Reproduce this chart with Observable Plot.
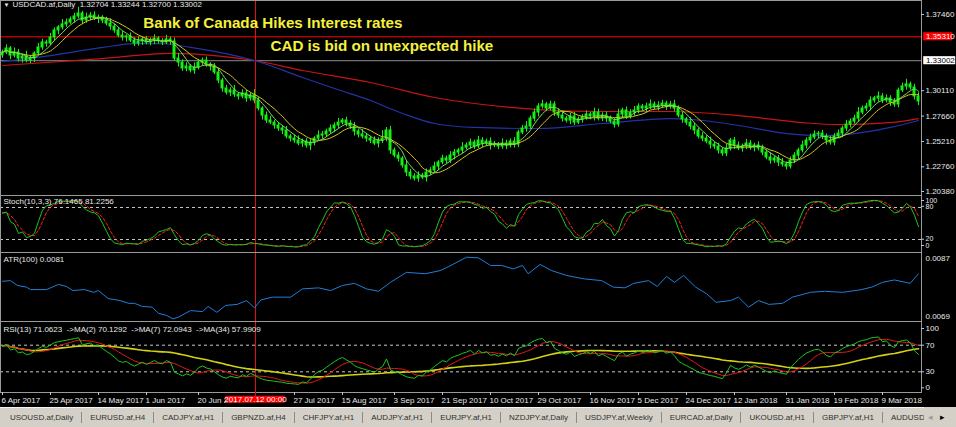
<!DOCTYPE html>
<html><head><meta charset="utf-8">
<script src="https://cdn.jsdelivr.net/npm/d3@7"></script>
<script src="https://cdn.jsdelivr.net/npm/@observablehq/plot@0.6"></script>
<style>
html,body{margin:0;padding:0;background:#000;}
#wrap{position:relative;width:956px;height:427px;background:#000;overflow:hidden;font-family:"Liberation Sans",Arial,sans-serif;}
.panel{position:absolute;left:0;line-height:0;}
#tabs{position:absolute;left:0;top:407px;width:956px;height:20px;background:#d4d0c8;border-top:1px solid #f4f4f4;box-sizing:border-box;display:flex;align-items:center;font-size:8px;color:#303030;white-space:nowrap;}
#tabs span{padding:0 8px;border-left:1px solid #8a8a8a;line-height:11px;}
#tabs span:first-child{border-left:none;padding-left:10px;}
#arrows{position:absolute;top:407px;right:0;width:32px;height:20px;background:#d4d0c8;font-size:9px;line-height:20px;color:#000;}
</style></head>
<body>
<div id="wrap"></div>
<script>
// ---------------- data ----------------
const symbolHeader = "USDCAD.af,Daily  1.32704 1.33244 1.32700 1.33002";
const firstOpen = 1.3352;
const closes = [
1.3379,1.3418,1.3350,1.3379,1.3321,1.3341,1.3302,1.3321,1.3370,1.3428,
1.3476,1.3466,1.3524,1.3592,1.3621,1.3650,1.3669,1.3698,1.3727,1.3756,
1.3688,1.3717,1.3736,1.3707,1.3717,1.3688,1.3659,1.3630,1.3592,1.3543,
1.3524,1.3534,1.3495,1.3466,1.3486,1.3505,1.3476,1.3495,1.3514,1.3486,
1.3476,1.3505,1.3486,1.3321,1.3282,1.3225,1.3244,1.3206,1.3234,1.3282,
1.3302,1.3263,1.3244,1.3186,1.3109,1.3032,1.2993,1.3013,1.2974,1.2955,
1.2984,1.2936,1.2965,1.2916,1.2839,1.2771,1.2723,1.2703,1.2675,1.2646,
1.2627,1.2569,1.2549,1.2530,1.2501,1.2520,1.2482,1.2511,1.2549,1.2578,
1.2588,1.2617,1.2646,1.2675,1.2703,1.2723,1.2694,1.2665,1.2617,1.2588,
1.2569,1.2549,1.2530,1.2501,1.2530,1.2549,1.2627,1.2434,1.2385,1.2356,
1.2289,1.2221,1.2183,1.2163,1.2192,1.2173,1.2221,1.2241,1.2279,1.2318,
1.2356,1.2337,1.2385,1.2414,1.2434,1.2462,1.2482,1.2511,1.2472,1.2530,
1.2501,1.2520,1.2482,1.2491,1.2472,1.2501,1.2482,1.2520,1.2491,1.2607,
1.2646,1.2665,1.2742,1.2800,1.2858,1.2878,1.2839,1.2878,1.2800,1.2771,
1.2742,1.2723,1.2762,1.2703,1.2733,1.2752,1.2781,1.2762,1.2800,1.2742,
1.2771,1.2742,1.2713,1.2684,1.2781,1.2820,1.2762,1.2800,1.2820,1.2858,
1.2839,1.2858,1.2878,1.2849,1.2868,1.2887,1.2858,1.2878,1.2839,1.2771,
1.2733,1.2703,1.2665,1.2627,1.2569,1.2549,1.2520,1.2491,1.2472,1.2434,
1.2405,1.2453,1.2530,1.2482,1.2453,1.2472,1.2501,1.2462,1.2482,1.2453,
1.2414,1.2366,1.2337,1.2356,1.2318,1.2299,1.2279,1.2337,1.2385,1.2434,
1.2482,1.2530,1.2559,1.2588,1.2597,1.2569,1.2530,1.2511,1.2569,1.2597,
1.2646,1.2684,1.2713,1.2742,1.2800,1.2839,1.2858,1.2916,1.2936,1.2955,
1.2916,1.2936,1.2897,1.2878,1.3013,1.3052,1.3071,1.3042,1.2955,1.2907];
// wick lengths above / below the body, in units of 2 pips
const upperWick = [
12,18,9,22,15,10,25,14,8,19, 16,11,20,13,9,24,17,12,15,30, 10,21,14,18,12,9,16,23,11,14,
19,8,17,13,22,10,15,12,18,9, 14,20,11,16,25,13,18,10,22,15, 12,17,9,14,20,11,16,13,24,10,
18,15,12,28,14,9,17,21,11,15, 13,19,10,16,22,12,14,18,9,23, 15,11,17,13,20,10,16,14,19,12,
25,15,11,18,13,38,14,20,12,16, 10,22,15,13,18,11,17,14,21,9, 16,12,19,15,10,24,13,17,11,20,
14,12,18,15,10,22,16,13,19,11, 15,24,12,17,14,20,10,16,13,18, 22,11,15,19,12,14,17,10,21,16,
13,18,12,15,26,11,17,14,19,13, 10,16,22,12,18,15,11,14,20,13, 17,10,23,15,12,18,14,21,11,16,
13,19,10,15,17,12,20,14,11,18, 16,13,22,10,15,19,12,17,14,11, 21,13,16,18,10,15,12,20,14,17,
11,19,13,16,24,12,15,18,10,22, 14,17,13,19,11,16,25,12,15,18];
const lowerWick = [
14,10,20,12,17,22,11,15,19,9, 13,18,10,16,21,12,14,9,17,11, 20,13,16,10,24,15,12,18,14,11,
17,22,10,15,13,19,11,16,20,12, 15,10,18,13,21,14,16,12,19,11, 16,13,22,10,15,18,12,20,14,17,
11,19,13,16,12,22,15,10,18,14, 20,12,17,14,11,19,13,25,16,10, 18,14,12,20,15,11,17,13,22,16,
12,18,15,10,21,14,16,19,11,17, 13,20,16,12,18,10,22,15,14,19, 11,17,14,21,13,16,12,18,15,10,
19,14,22,11,16,13,20,12,17,15, 10,18,13,16,21,12,15,11,19,14, 17,12,20,14,10,18,13,16,22,11,
15,19,11,17,13,20,14,12,18,16, 12,21,15,10,17,14,19,13,16,11, 18,13,16,20,12,15,11,22,14,17,
14,16,12,19,10,18,15,13,21,12, 16,11,18,14,20,13,17,12,15,19, 12,17,14,11,19,15,22,13,16,10,
20,14,16,12,18,11,15,21,13,17, 15,12,19,14,16,10,18,13,17,20];
// slow moving averages (bar index, price)
const blueMABar = [0,12,25,33,40,47,58,63,75,83,92,100,108,118,134,150,167,175,184,196,205,213,222,229];
const blueMAVal = [1.3293,1.3350,1.3428,1.3466,1.3466,1.3428,1.3350,1.3302,1.3138,1.3032,1.2916,1.2791,1.2694,1.2656,1.2646,1.2694,1.2742,1.2723,1.2675,1.2597,1.2578,1.2597,1.2656,1.2723];
const redMABar = [0,25,42,53,63,75,92,108,118,134,150,167,184,200,209,222,229];
const redMAVal = [1.3254,1.3321,1.3370,1.3350,1.3302,1.3206,1.3090,1.2945,1.2887,1.2829,1.2810,1.2810,1.2771,1.2703,1.2684,1.2703,1.2742];
// ATR(100)
const atrBar = [0,2,3.7,6,7,11,14,16,17.6,20.5,22.8,24,26.4,29.4,31.6,33,35,37.4,39,41,42.6,44,47,50,51.4,53.6,55.8,58.7,61,63,64.6,67.5,72,75,79,82,85,88,91,94,97,101,105.7,109.4,111.6,116,119,122,124.8,127.7,130,131.4,134.4,137.3,141,145.4,149.8,152.7,155.6,157.8,161.5,163.7,166,168,170.3,173.3,176,178.4,182,184,186.5,189,191.6,195,197.5,202,205.5,210,214.4,217.3,220,223,226.9,229];
const atrVal = [0.00798,0.00800,0.00786,0.00781,0.00774,0.00774,0.00789,0.00783,0.00771,0.00774,0.00766,0.00771,0.00748,0.00742,0.00734,0.00734,0.00725,0.00723,0.00705,0.00699,0.00689,0.00694,0.00713,0.00710,0.00725,0.00708,0.00728,0.00731,0.00742,0.00721,0.00744,0.00752,0.00752,0.00776,0.00779,0.00771,0.00786,0.00792,0.00776,0.00769,0.00795,0.00824,0.00820,0.00829,0.00841,0.00868,0.00866,0.00844,0.00844,0.00834,0.00844,0.00820,0.00847,0.00829,0.00815,0.00805,0.00800,0.00781,0.00779,0.00792,0.00800,0.00783,0.00812,0.00795,0.00815,0.00781,0.00762,0.00737,0.00742,0.00752,0.00723,0.00742,0.00731,0.00734,0.00752,0.00766,0.00769,0.00766,0.00773,0.00781,0.00795,0.00802,0.00792,0.00820];
const priceTicks = [1.3746,1.3011,1.2766,1.2521,1.2276,1.2038];
const hLineRed = 1.3531;
const bidLine = 1.33002;
const eventBar = 63.25;
const eventLabel = "2017.07.12 00:00";
const notes = ["Bank of Canada Hikes Interest rates", "CAD is bid on unexpected hike"];
const xTickBars = [0,12,24,36,49,73,85,98,110,122,134,147,159,171,183,196,208,220];
const xTickLabels = ["6 Apr 2017","25 Apr 2017","14 May 2017","1 Jun 2017","20 Jun 2017","27 Jul 2017","15 Aug 2017","3 Sep 2017","21 Sep 2017","10 Oct 2017","29 Oct 2017","16 Nov 2017","5 Dec 2017","24 Dec 2017","12 Jan 2018","31 Jan 2018","19 Feb 2018","9 Mar 2018"];
const stochLevels = [100,80,20,0];
const rsiLevels = [100,70,30,0];
const atrLevels = [0.0087,0.0069];
const stochTitle = "Stoch(10,3,3) 76.1465 81.2256";
const atrTitle = "ATR(100) 0.0081";
const rsiTitle = "RSI(13) 71.0623  ->MA(2) 70.1292  ->MA(7) 72.0943  ->MA(34) 57.9909";
const tabs = ["USOUSD.af,Daily","EURUSD.af,H4","CADJPY.af,H1","GBPNZD.af,H4","CHFJPY.af,H1","AUDJPY.af,H1","EURJPY.af,H1","NZDJPY.af,Daily","USDJPY.af,Weekly","EURCAD.af,Daily","UKOUSD.af,H1","GBPJPY.af,H1","AUDUSD"];

// ---------------- derived series ----------------
const WICK = 0.0002;
const n = closes.length;
const idx = d3.range(n);
const bars = idx.map(i => {
  const o = i ? closes[i-1] : firstOpen, c = closes[i];
  return {i, o, c, h: Math.max(o, c) + upperWick[i]*WICK, l: Math.min(o, c) - lowerWick[i]*WICK};
});
function sma(a, p) {
  return a.map((_, i) => { const s = Math.max(0, i-p+1); let t = 0; for (let j = s; j <= i; j++) t += a[j]; return t/(i-s+1); });
}
const fastGreen = sma(closes, 5);
const fastYellow = sma(closes, 9);
// Stochastic 10,3,3
const num = [], den = [];
idx.forEach(i => {
  const s = Math.max(0, i-9);
  const ll = d3.min(bars.slice(s, i+1), d => d.l), hh = d3.max(bars.slice(s, i+1), d => d.h);
  num.push(closes[i]-ll); den.push(hh-ll);
});
const stochK = idx.map(i => { const s = Math.max(0, i-2); return 100*d3.sum(num.slice(s, i+1))/d3.sum(den.slice(s, i+1)); });
const stochD = sma(stochK, 3);
// RSI 13 (Wilder), seeded from first 13 changes
const diffs = idx.map(i => i ? closes[i]-closes[i-1] : 0);
let ag = d3.mean(diffs.slice(1, 14), d => Math.max(d, 0));
let al = d3.mean(diffs.slice(1, 14), d => Math.max(-d, 0));
const rsi = idx.map(i => {
  if (i) { ag = (ag*12 + Math.max(diffs[i], 0))/13; al = (al*12 + Math.max(-diffs[i], 0))/13; }
  return 100*ag/(ag+al);
});
const rsiMA7 = sma(rsi, 7);
const rsiMA34 = sma(rsi, 34);

// ---------------- layout ----------------
const wrap = document.getElementById("wrap");
const X = {domain: [-0.5, 229.75], range: [0, 921], axis: null};
const FONT = "'Liberation Sans', Arial, sans-serif";
const style = {background: "transparent", color: "#c8c8c8", fontFamily: FONT, fontSize: "8px", overflow: "visible"};
const common = {width: 956, marginLeft: 0, marginRight: 35, marginTop: 0, marginBottom: 0, style, x: X};
function place(svg, top) { const d = document.createElement("div"); d.className = "panel"; d.style.top = top + "px"; d.appendChild(svg); wrap.appendChild(d); }
const FRAME = "#9a9a9a", LBL = "#e8e8e8", CANDLE = "#14f014", VLINE = "#e01010";
const AX0 = 229.75, AX1 = 230.5;

// main price panel
place(Plot.plot({...common, height: 195,
  y: {domain: [1.19994, 1.38812], range: [195, 0], axis: null},
  marks: [
    Plot.ruleY([hLineRed], {stroke: "#ff0000", strokeWidth: 1}),
    Plot.ruleY([bidLine], {stroke: "#8c8c8c", strokeWidth: 1}),
    Plot.ruleX([eventBar], {stroke: VLINE}),
    Plot.line(redMABar, {x: d => d, y: (d, i) => redMAVal[i], stroke: "#c81414", strokeWidth: 1.2, curve: "monotone-x"}),
    Plot.line(blueMABar, {x: d => d, y: (d, i) => blueMAVal[i], stroke: "#2233a8", strokeWidth: 1.2, curve: "monotone-x"}),
    Plot.ruleX(bars, {x: "i", y1: "l", y2: "h", stroke: CANDLE, strokeWidth: 1}),
    Plot.rect(bars, {x1: d => d.i-0.25, x2: d => d.i+0.25, y1: "o", y2: "c", fill: CANDLE, stroke: CANDLE, strokeWidth: 1}),
    Plot.line(idx, {x: d => d, y: d => fastYellow[d], stroke: "#d8c820", strokeWidth: 1, curve: "monotone-x"}),
    Plot.line(idx, {x: d => d, y: d => fastGreen[d], stroke: "#7ee060", strokeWidth: 1, curve: "monotone-x"}),
    Plot.frame({stroke: FRAME}),
    Plot.text([notes[0]], {x: 35.2, y: 1.3664, text: d => d, textAnchor: "start", fill: "#f4f03c", fontWeight: "bold", fontSize: 15.2, fontFamily: FONT}),
    Plot.text([notes[1]], {x: 67, y: 1.3437, text: d => d, textAnchor: "start", fill: "#f4f03c", fontWeight: "bold", fontSize: 15.2, fontFamily: FONT}),
    Plot.text(["\u25BC"], {frameAnchor: "top-left", dx: 3, dy: 2, text: d => d, textAnchor: "start", lineAnchor: "top", fill: LBL, fontSize: 6}),
    Plot.text([symbolHeader], {frameAnchor: "top-left", dx: 12, dy: 1, text: d => d, textAnchor: "start", lineAnchor: "top", fill: LBL, fontSize: 8}),
    Plot.ruleY(priceTicks, {x1: AX0, x2: AX1, stroke: "#c8c8c8"}),
    Plot.text(priceTicks, {x: AX1, y: d => d, text: d => d.toFixed(5), textAnchor: "start", dx: 1, fill: LBL}),
    Plot.rect([hLineRed], {x1: 230.3, x2: 237.6, y1: d => d-0.0039, y2: d => d+0.0039, fill: "#ff0000"}),
    Plot.text([hLineRed], {x: 230.6, y: d => d, text: d => d.toFixed(5), textAnchor: "start", dx: 1, fill: "#ffffff"}),
    Plot.rect([bidLine], {x1: 230.3, x2: 238.3, y1: d => d-0.0039, y2: d => d+0.0039, fill: "#ffffff"}),
    Plot.text([bidLine], {x: 230.6, y: d => d, text: d => d.toFixed(5), textAnchor: "start", dx: 1, fill: "#000000"})
  ]}), 0);

// Stochastic panel
const stochLblY = v => v === 100 ? 93 : v === 0 ? 8.8 : v === 80 ? 82.2 : 20.6;
place(Plot.plot({...common, height: 57,
  y: {domain: [0, 100], range: [54.7, 1.3], axis: null},
  marks: [
    Plot.ruleY([80, 20], {stroke: "#c8c8c8", strokeDasharray: "3,3"}),
    Plot.ruleX([eventBar], {stroke: VLINE}),
    Plot.line(idx, {x: d => d, y: d => stochD[d], stroke: "#ff2020", strokeDasharray: "3,2", strokeWidth: 1}),
    Plot.line(idx, {x: d => d, y: d => stochK[d], stroke: "#1ec81e", strokeWidth: 1}),
    Plot.frame({stroke: FRAME}),
    Plot.text([stochTitle], {frameAnchor: "top-left", dx: 3, dy: 3, text: d => d, textAnchor: "start", lineAnchor: "top", fill: LBL}),
    Plot.ruleY(stochLevels, {x1: AX0, x2: AX1, y: stochLblY, stroke: "#c8c8c8"}),
    Plot.text(stochLevels, {x: AX1, y: stochLblY, text: d => String(d), textAnchor: "start", dx: 1, fill: LBL, fontSize: 7})
  ]}), 195);

// ATR panel
const atrLblY = v => v === 0.0087 ? 0.008642 : 0.006958;
place(Plot.plot({...common, height: 69,
  y: {domain: [0.0069, 0.0087], range: [66, 4], axis: null},
  marks: [
    Plot.ruleX([eventBar], {stroke: VLINE}),
    Plot.line(atrBar, {x: d => d, y: (d, i) => atrVal[i], stroke: "#1e7fd8", strokeWidth: 1}),
    Plot.frame({stroke: FRAME}),
    Plot.text([atrTitle], {frameAnchor: "top-left", dx: 3, dy: 4, text: d => d, textAnchor: "start", lineAnchor: "top", fill: LBL}),
    Plot.text(atrLevels, {x: AX1, y: atrLblY, text: d => d.toFixed(4), textAnchor: "start", dx: 1, fill: LBL})
  ]}), 252);

// RSI panel
const rsiLblY = v => v === 100 ? 95.1 : v === 0 ? 5.9 : v;
place(Plot.plot({...common, height: 71,
  y: {domain: [0, 100], range: [70.25, 3.75], axis: null},
  marks: [
    Plot.ruleY([70, 30], {stroke: "#c8c8c8", strokeDasharray: "3,3"}),
    Plot.ruleX([eventBar], {stroke: VLINE}),
    Plot.line(idx, {x: d => d, y: d => rsiMA34[d], stroke: "#d2d214", strokeWidth: 1.6}),
    Plot.line(idx, {x: d => d, y: d => rsiMA7[d], stroke: "#e81818", strokeWidth: 1}),
    Plot.line(idx, {x: d => d, y: d => rsi[d], stroke: "#1ec81e", strokeWidth: 1}),
    Plot.frame({stroke: FRAME}),
    Plot.text([rsiTitle], {frameAnchor: "top-left", dx: 3, dy: 5, text: d => d, textAnchor: "start", lineAnchor: "top", fill: LBL}),
    Plot.ruleY(rsiLevels, {x1: AX0, x2: AX1, y: rsiLblY, stroke: "#c8c8c8"}),
    Plot.text(rsiLevels, {x: AX1, y: rsiLblY, text: d => String(d), textAnchor: "start", dx: 1, fill: LBL})
  ]}), 321);

// time axis strip
place(Plot.plot({...common, height: 15,
  y: {domain: [0, 15], range: [0, 15], axis: null},
  marks: [
    Plot.ruleX(xTickBars, {x: d => d, y1: 0, y2: 3, stroke: "#c8c8c8"}),
    Plot.text(xTickBars, {x: d => d, y: 7.5, text: (d, i) => xTickLabels[i], textAnchor: "start", dx: -1, fill: LBL}),
    Plot.ruleX([eventBar], {y1: 0, y2: 4, stroke: VLINE}),
    Plot.rect([eventBar], {x1: d => d-7.4, x2: d => d+7.4, y1: 3.7, y2: 10.7, fill: "#ff0000"}),
    Plot.text([eventLabel], {x: eventBar, y: 7.3, text: d => d, fill: "#ffffff"})
  ]}), 392);

// symbol tabs
const tb = document.createElement("div"); tb.id = "tabs";
tabs.forEach(t => { const s = document.createElement("span"); s.textContent = t; tb.appendChild(s); });
wrap.appendChild(tb);
const ar = document.createElement("div"); ar.id = "arrows";
ar.innerHTML = '<span style="color:#9a9a9a;margin-left:4px">\u25C2</span><span style="margin-left:7px">\u25B8</span>';
wrap.appendChild(ar);
</script>
</body></html>
